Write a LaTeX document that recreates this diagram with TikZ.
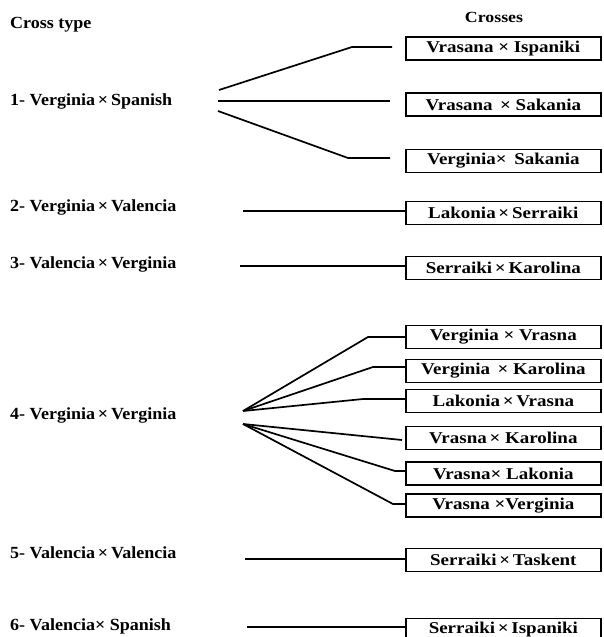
\documentclass[tikz,border=0pt]{standalone}
\usepackage{fontspec}
\setmainfont[FakeStretch=1.06]{Liberation Serif}
\newfontfamily\boxfont[FakeStretch=1.15]{Liberation Serif}
\usetikzlibrary{calc}
\begin{document}
\begin{tikzpicture}[x=1pt,y=-1pt,
  conn/.style={line width=1.7pt},
  crossbox/.style={draw,line width=1.7pt,minimum width=195pt,minimum height=23pt,inner sep=0pt,anchor=west,font=\boxfont\fontsize{16.5}{17}\selectfont\bfseries},
  typelabel/.style={anchor=base west,inner sep=0pt,font=\fontsize{17}{18}\selectfont\bfseries},
  header/.style={anchor=base,inner sep=0pt,font=\boxfont\fontsize{15.5}{16}\selectfont\bfseries}]
\useasboundingbox (0,0) rectangle (603,637);
% headers
\node[typelabel] (hct) at (10,28) {Cross type};
\node[header] (hcr) at (494,22) {Crosses};
% cross types
\node[typelabel] (t1) at (10,105) {1- Verginia\,×\,Spanish};
\node[typelabel] (t2) at (10,211) {2- Verginia\,×\,Valencia};
\node[typelabel] (t3) at (10,268) {3- Valencia\,×\,Verginia};
\node[typelabel] (t4) at (10,419) {4- Verginia\,×\,Verginia};
\node[typelabel] (t5) at (10,558) {5- Valencia\,×\,Valencia};
\node[typelabel] (t6) at (10,630) {6- Valencia× Spanish};
% crosses
\node[crossbox] (b1) at (405,48.5) {Vrasana × Ispaniki};
\node[crossbox] (b2) at (405,104.5) {Vrasana \,× Sakania};
\node[crossbox] (b3) at (405,161) {Verginia×\, Sakania};
\node[crossbox] (b4) at (405,213) {Lakonia\,×\,Serraiki};
\node[crossbox] (b5) at (405,268) {Serraiki\,×\,Karolina};
\node[crossbox] (b6) at (405,337) {Verginia × Vrasna};
\node[crossbox] (b7) at (405,371) {Verginia \,× Karolina};
\node[crossbox] (b8) at (405,401) {Lakonia\,×\,Vrasna};
\node[crossbox] (b9) at (405,438) {Vrasna\,× Karolina};
\node[crossbox] (b10) at (405,473.5) {Vrasna× Lakonia};
\node[crossbox] (b11) at (405,505.5) {Vrasna ×Verginia};
\node[crossbox] (b12) at (405,560) {Serraiki\,×\,Taskent};
\node[crossbox] (b13) at (405,630) {\raisebox{2pt}{Serraiki\,×\,Ispaniki}};
% source points
\coordinate (s1a) at (219,90);
\coordinate (s1b) at (218,101);
\coordinate (s1c) at (218,111);
\coordinate (s2) at (243,211);
\coordinate (s3) at (240,266);
\coordinate (s4a) at (243,411);
\coordinate (s4b) at (243,424);
\coordinate (s5) at (245,559);
\coordinate (s6) at (247,627);
% connectors
\draw[conn] (s1a) -- (352,47) -- ([xshift=-13pt,yshift=1.5pt]b1.west);
\draw[conn] (s1b) -- ([xshift=-15pt,yshift=3.5pt]b2.west);
\draw[conn] (s1c) -- (348,158) -- ([xshift=-15pt,yshift=3pt]b3.west);
\draw[conn] (s2) -- ([yshift=2pt]b4.west);
\draw[conn] (s3) -- ([yshift=2pt]b5.west);
\draw[conn] (s4a) -- (368,337) -- (b6.west);
\draw[conn] (s4a) -- (373,367) -- ([yshift=4pt]b7.west);
\draw[conn] (s4a) -- (363,399) -- ([yshift=2pt]b8.west);
\draw[line width=2.4pt] (363,399) -- ([yshift=2pt]b8.west);
\draw[conn] (s4b) -- ([xshift=-3pt,yshift=-2pt]b9.west);
\draw[conn] (s4b) -- (395,471) -- ([yshift=2.5pt]b10.west);
\draw[conn] (s4b) -- (393,504) -- ([yshift=1.5pt]b11.west);
\draw[conn] (s5) -- ([yshift=1pt]b12.west);
\draw[conn] (s6) -- ([yshift=3pt]b13.west);
\end{tikzpicture}
\end{document}
